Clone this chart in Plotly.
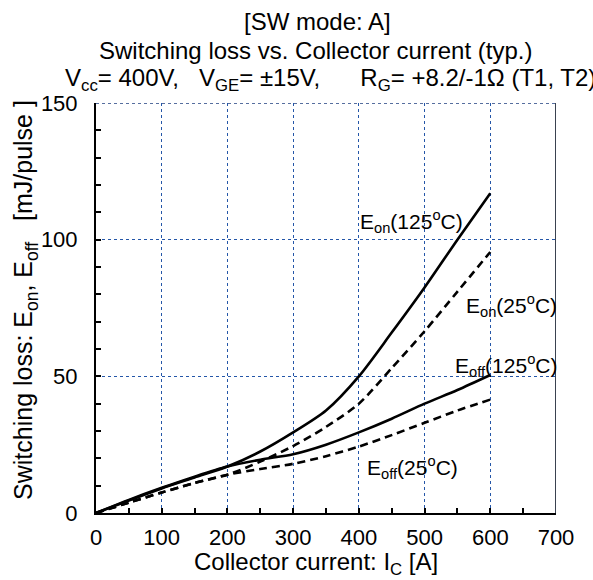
import plotly.graph_objects as go

# Data
ic = [0, 50, 100, 150, 200, 250, 300, 350, 400, 450, 500, 550, 600]
eon_125 = [0, 4.6, 9.0, 13.0, 17.0, 22.5, 29.5, 37.5, 50.0, 66.0, 82.5, 100.0, 117.0]
eon_25 = [0, 3.8, 7.5, 11.0, 14.0, 18.8, 24.5, 31.5, 40.0, 53.0, 66.5, 81.0, 95.5]
eoff_125 = [0, 4.8, 9.2, 13.3, 17.0, 19.5, 21.5, 25.0, 29.5, 34.5, 40.0, 45.0, 50.5]
eoff_25 = [0, 3.8, 7.5, 11.0, 14.0, 16.1, 18.0, 20.8, 24.3, 28.5, 33.0, 37.5, 41.5]

xticks = [0, 100, 200, 300, 400, 500, 600, 700]
yticks = [0, 50, 100, 150]

FONT = "Liberation Sans, Arial, sans-serif"
NB = "\u00a0"

fig = go.Figure()
for y, dash in [(eon_125, "solid"), (eon_25, "8px,5px"), (eoff_125, "solid"), (eoff_25, "8px,5px")]:
    fig.add_trace(go.Scatter(x=ic, y=y, mode="lines",
                             line=dict(color="black", width=2.6, dash=dash, shape="spline", smoothing=0.8),
                             showlegend=False, hoverinfo="skip"))

grid = dict(showgrid=True, gridcolor="#2456a8", gridwidth=1, griddash="dot")

fig.update_xaxes(range=[0, 700], tickvals=xticks, **grid,
                 showline=True, linecolor="black", linewidth=2,
                 ticks="inside", ticklen=5, tickcolor="black", tickwidth=1.5,
                 minor=dict(dtick=50, ticks="inside", ticklen=5, tickcolor="black", tickwidth=1.5, showgrid=False),
                 zeroline=False, tickfont=dict(size=22, color="black", family=FONT),
                 ticklabelstandoff=4)
fig.update_yaxes(range=[0, 150], tickvals=yticks, **grid,
                 showline=True, linecolor="black", linewidth=2,
                 ticks="inside", ticklen=5, tickcolor="black", tickwidth=1.5,
                 minor=dict(dtick=10, ticks="inside", ticklen=5, tickcolor="black", tickwidth=1.5, showgrid=False),
                 zeroline=False, tickfont=dict(size=22, color="black", family=FONT),
                 ticklabelstandoff=12)

# top border (dotted) and right border
fig.add_shape(type="line", xref="x", yref="y", x0=0, x1=700, y0=150, y1=150,
              line=dict(color="#1f3f80", width=1.5, dash="dot"))
fig.add_shape(type="line", xref="x", yref="y", x0=700, x1=700, y0=0, y1=150,
              line=dict(color="#3a4250", width=2))

def ann(text, x, y, xref="paper", yref="paper", size=24, xanchor="center", angle=0):
    fig.add_annotation(text=text, x=x, y=y, xref=xref, yref=yref, showarrow=False,
                       xanchor=xanchor, yanchor="middle", textangle=angle,
                       font=dict(size=size, color="black", family=FONT))

ann("[SW mode: A]", 0.482, 1.198)
ann("Switching loss vs. Collector current (typ.)", 0.478, 1.128)
ann("V<sub>cc</sub>= 400V," + NB * 3 + "V<sub>GE</sub>= ±15V," + NB * 6 + "R<sub>G</sub>= +8.2/-1Ω (T1, T2)",
    -0.072, 1.058, xanchor="left")
ann("Collector current: I<sub>C</sub> [A]", 0.479, -0.124)
ann("Switching loss: E<sub>on</sub>, E<sub>off</sub>" + NB * 3 + "[mJ/pulse ]", -0.154, 0.52, angle=-90, size=25)

ann("E<sub>on</sub>(125<sup>o</sup>C)", 480, 106.5, "x", "y", size=21)
ann("E<sub>on</sub>(25<sup>o</sup>C)", 632, 76, "x", "y", size=21)
ann("E<sub>off</sub>(125<sup>o</sup>C)", 624, 54, "x", "y", size=21)
ann("E<sub>off</sub>(25<sup>o</sup>C)", 482, 16.8, "x", "y", size=21)

fig.update_layout(width=593, height=580, margin=dict(l=96, r=37, t=103, b=67),
                  paper_bgcolor="white", plot_bgcolor="white",
                  font=dict(family=FONT, color="black"))

fig.write_html("out.html")
